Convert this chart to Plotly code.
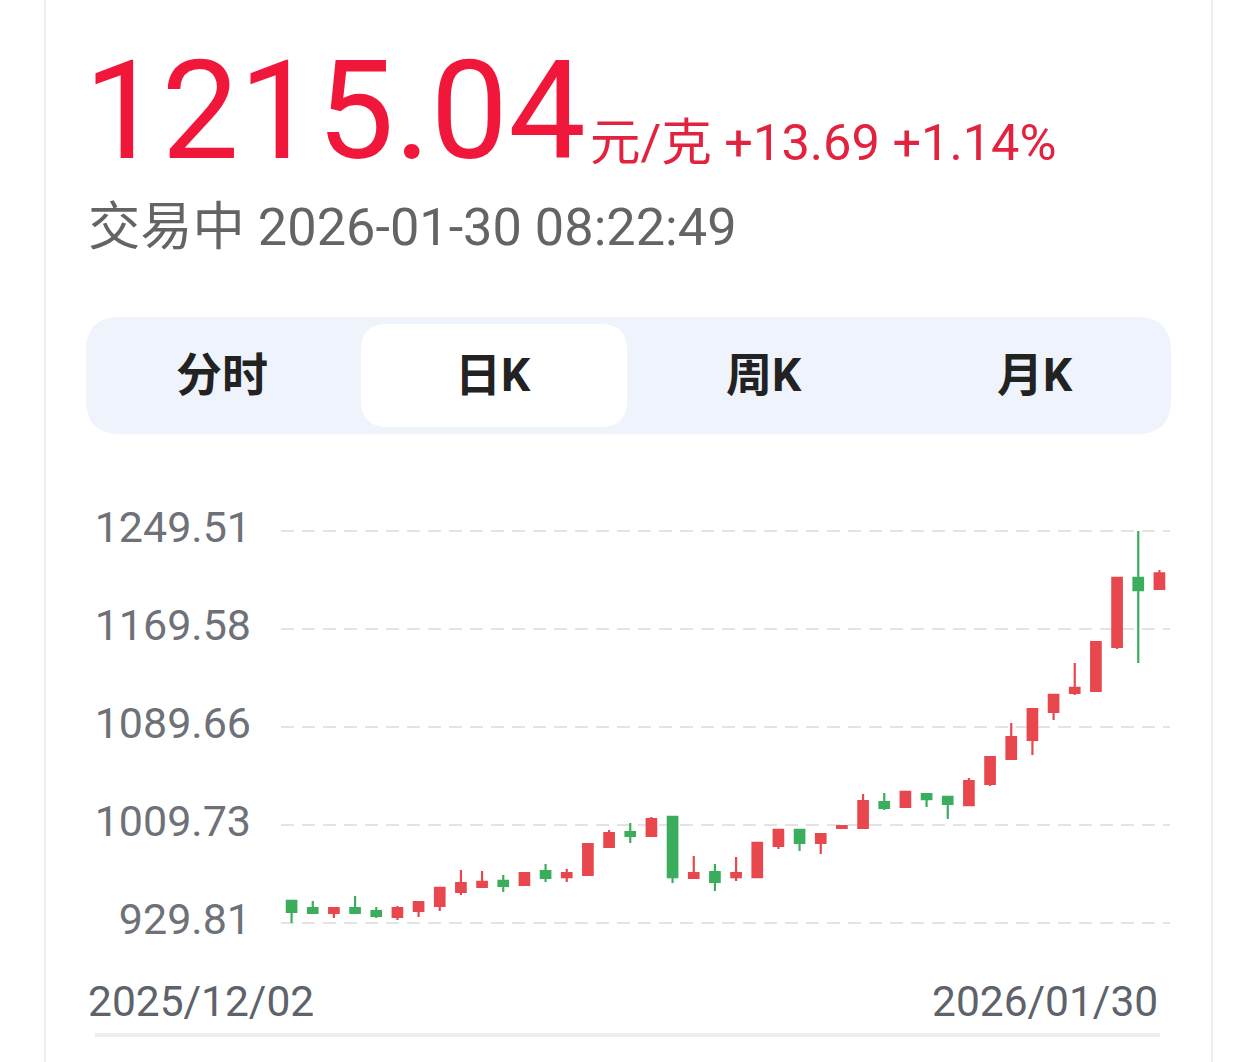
import plotly.graph_objects as go

# ---------------- data ----------------
dates = [
    "2025-12-02", "2025-12-03", "2025-12-04", "2025-12-05",
    "2025-12-08", "2025-12-09", "2025-12-10", "2025-12-11", "2025-12-12",
    "2025-12-15", "2025-12-16", "2025-12-17", "2025-12-18", "2025-12-19",
    "2025-12-22", "2025-12-23", "2025-12-24", "2025-12-25", "2025-12-26",
    "2025-12-29", "2025-12-30", "2025-12-31",
    "2026-01-05", "2026-01-06", "2026-01-07", "2026-01-08", "2026-01-09",
    "2026-01-12", "2026-01-13", "2026-01-14", "2026-01-15", "2026-01-16",
    "2026-01-19", "2026-01-20", "2026-01-21", "2026-01-22", "2026-01-23",
    "2026-01-26", "2026-01-27", "2026-01-28", "2026-01-29", "2026-01-30",
]
open_ = [947.8, 942.0, 938.0, 942.0, 939.6, 934.7, 939.6, 943.7, 955.1, 959.2,
         964.1, 960.8, 972.2, 967.3, 969.0, 991.8, 1004.0, 1000.8, 1016.3, 966.5,
         971.4, 967.3, 967.3, 992.6, 1005.7, 995.1, 1007.3, 1007.3, 1028.5, 1024.4,
         1035.0, 1032.6, 1026.0, 1043.2, 1063.6, 1079.1, 1101.9, 1117.4, 1119.0, 1154.9,
         1211.2, 1202.2]
high = [947.8, 947.8, 942.9, 951.8, 942.9, 943.7, 946.9, 958.4, 973.0, 972.2,
        969.0, 971.4, 977.9, 973.9, 994.2, 1005.7, 1011.4, 1016.3, 1016.3, 984.5,
        977.9, 983.6, 995.1, 1005.7, 1005.7, 1002.4, 1008.9, 1035.0, 1035.8, 1037.5,
        1035.0, 1032.6, 1048.1, 1065.2, 1092.9, 1104.3, 1115.8, 1141.9, 1159.0, 1211.2,
        1249.51, 1217.7]
low = [929.81, 938.0, 933.9, 938.0, 933.9, 932.3, 934.7, 939.6, 952.6, 959.2,
       955.1, 960.8, 963.3, 963.3, 969.0, 991.0, 995.1, 1000.8, 962.4, 966.5,
       955.9, 964.1, 967.3, 990.2, 988.5, 986.1, 1007.3, 1007.3, 1022.0, 1024.4,
       1024.4, 1014.6, 1026.0, 1041.5, 1063.6, 1066.8, 1095.4, 1115.8, 1119.0, 1153.3,
       1141.9, 1202.2]
close = [938.8, 938.0, 942.0, 938.0, 935.5, 942.0, 946.9, 958.4, 962.4, 963.3,
         960.0, 970.6, 966.5, 970.6, 994.2, 1003.2, 1000.8, 1014.6, 967.3, 970.6,
         963.3, 970.6, 995.1, 1005.7, 995.1, 1002.4, 1008.9, 1029.3, 1023.6, 1036.7,
         1030.9, 1026.9, 1045.6, 1065.2, 1081.5, 1104.3, 1115.8, 1121.5, 1159.0, 1211.2,
         1201.35, 1215.04]

y_ticks = [929.81, 1009.73, 1089.66, 1169.58, 1249.51]
y_tick_labels = ["929.81", "1009.73", "1089.66", "1169.58", "1249.51"]

price = "1215.04"
unit = "元/克"
change = "+13.69"
change_pct = "+1.14%"
status = "交易中"
timestamp = "2026-01-30 08:22:49"
tabs = ["分时", "日K", "周K", "月K"]

# ---------------- geometry helpers ----------------
W, H = 1256, 1062
OFF = 0  # body margin removed via post_script


def px(X):
    return (X - OFF) / W


def py(Y):
    return 1 - (Y - OFF) / H


def rrect(x0, y0, x1, y1, r):
    def P(X, Y):
        return f"{px(X):.5f},{py(Y):.5f}"
    return (f"M {P(x0 + r, y0)} L {P(x1 - r, y0)} Q {P(x1, y0)} {P(x1, y0 + r)} "
            f"L {P(x1, y1 - r)} Q {P(x1, y1)} {P(x1 - r, y1)} "
            f"L {P(x0 + r, y1)} Q {P(x0, y1)} {P(x0, y1 - r)} "
            f"L {P(x0, y0 + r)} Q {P(x0, y0)} {P(x0 + r, y0)} Z")


RED = "#E8474D"
GREEN = "#3BAE5E"
FONT = "Roboto, 'Noto Sans CJK SC', sans-serif"

fig = go.Figure()
fig.add_trace(go.Candlestick(
    x=dates, open=open_, high=high, low=low, close=close,
    increasing=dict(line=dict(color=RED, width=2.2), fillcolor=RED),
    decreasing=dict(line=dict(color=GREEN, width=2.2), fillcolor=GREEN),
    whiskerwidth=0, showlegend=False, hoverinfo="skip",
))

# plot area pixel bounds
PX0, PX1 = 281, 1170
PY0, PY1 = 515, 940
grid_top_Y, grid_bot_Y = 531, 923
upp = (y_ticks[-1] - y_ticks[0]) / (grid_bot_Y - grid_top_Y)
y_hi = y_ticks[-1] + (grid_top_Y - PY0) * upp
y_lo = y_ticks[0] - (PY1 - grid_bot_Y) * upp

shapes = [
    # card borders
    dict(type="line", xref="paper", yref="paper", x0=px(45), x1=px(45), y0=0, y1=1,
         line=dict(color="#EFEFEF", width=2)),
    dict(type="line", xref="paper", yref="paper", x0=px(1212), x1=px(1212), y0=0, y1=1,
         line=dict(color="#EFEFEF", width=2)),
    # tab bar
    dict(type="path", xref="paper", yref="paper", path=rrect(86, 317, 1171, 434, 34),
         fillcolor="#EEF3FC", line=dict(width=0), layer="below"),
    dict(type="path", xref="paper", yref="paper", path=rrect(361, 324, 627, 427, 26),
         fillcolor="#FFFFFF", line=dict(width=0), layer="below"),
    # bottom line
    dict(type="line", xref="paper", yref="paper", x0=px(95), x1=px(1160), y0=py(1035), y1=py(1035),
         line=dict(color="#EEEEEE", width=4)),
]

ann = []
ann.append(dict(text=price, x=px(82), y=py(111), xref="paper", yref="paper",
                xanchor="left", yanchor="middle", showarrow=False,
                font=dict(family=FONT, size=138, color="#F0173A")))
ann.append(dict(text=f"{unit} {change} {change_pct}", x=px(588), y=py(143), xref="paper", yref="paper",
                xanchor="left", yanchor="middle", showarrow=False,
                font=dict(family=FONT, size=50.5, color="#E2223E")))
ann.append(dict(text=f"{status} {timestamp}", x=px(86), y=py(227), xref="paper", yref="paper",
                xanchor="left", yanchor="middle", showarrow=False,
                font=dict(family=FONT, size=52.3, color="#646464")))
tab_w = (1171 - 86) / 4
for i, t in enumerate(tabs):
    ann.append(dict(text=f"<b>{t}</b>", x=px(86 + tab_w * (i + 0.5)), y=py(375), xref="paper", yref="paper",
                    xanchor="center", yanchor="middle", showarrow=False,
                    font=dict(family=FONT, size=46, color="#222222")))
ann.append(dict(text=dates[0].replace("-", "/"), x=px(86), y=py(1001), xref="paper", yref="paper",
                xanchor="left", yanchor="middle", showarrow=False,
                font=dict(family=FONT, size=42.5, color="#5D626B")))
ann.append(dict(text=dates[-1].replace("-", "/"), x=px(1160), y=py(1001), xref="paper", yref="paper",
                xanchor="right", yanchor="middle", showarrow=False,
                font=dict(family=FONT, size=42.5, color="#5D626B")))

fig.update_layout(
    width=W, height=H,
    margin=dict(l=0, r=0, t=0, b=0, autoexpand=False),
    paper_bgcolor="white", plot_bgcolor="white",
    boxgap=0.36,
    shapes=shapes, annotations=ann,
    xaxis=dict(type="category", domain=[px(PX0), px(PX1)], range=[-0.5, len(dates) - 0.5],
               showticklabels=False, showgrid=False, zeroline=False, showline=False,
               ticks="", rangeslider=dict(visible=False), fixedrange=True, automargin=False),
    yaxis=dict(domain=[py(PY1), py(PY0)], range=[y_lo, y_hi],
               tickvals=y_ticks, ticktext=y_tick_labels,
               showgrid=True, gridcolor="#E4E4E4", gridwidth=2, griddash="13px,8px",
               zeroline=False, showline=False, ticks="",
               ticklabelstandoff=29, ticklabelshift=-4, automargin=False,
               tickfont=dict(family=FONT, size=43, color="#6E7178"), fixedrange=True),
    font=dict(family=FONT),
)

fig.write_html(
    "out.html",
    config={"displayModeBar": False, "staticPlot": True},
    post_script="document.documentElement.style.margin='0';document.body.style.margin='0';"
                "document.body.style.overflow='hidden';",
)
